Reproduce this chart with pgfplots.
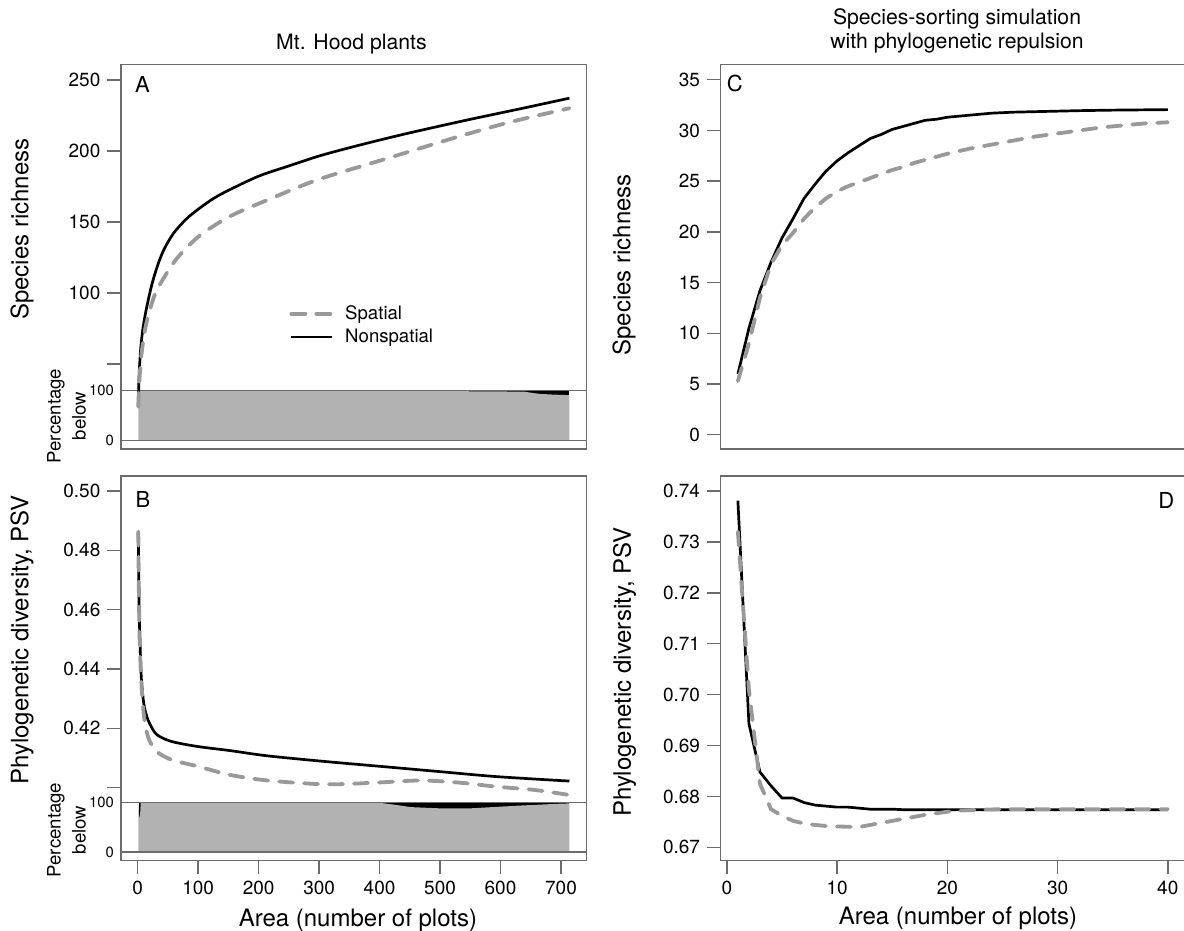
\documentclass[border=0pt]{standalone}
\usepackage{fontspec}
\setmainfont{TeX Gyre Heros}
\usepackage{pgfplots}
\usepackage{pgfplotstable}
\pgfplotsset{compat=1.18}

\definecolor{axgray}{gray}{0.42}
\definecolor{spgray}{gray}{0.6}
\definecolor{pctgray}{gray}{0.7}

% Mt. Hood plants, species richness
\pgfplotstableread{
x y
1 22
2 38
3 48
5 61
8 73
13 86
20 100
26 110
35 122
45 132
60 142.5
80 152
100 159
125 166.5
150 172.3
200 182.3
250 189.5
300 196.5
350 202.3
400 207.7
450 212.8
500 217.6
550 222.3
600 226.8
650 231.3
714 237.2
}\richNonspA
\pgfplotstableread{
x y
1 20
2 32
3 40
6 56
12 74
20 88
32 102.4
63 123.4
101 139.9
152 153.9
215 165.6
297 179.7
405 193.8
531 210.2
619 220.7
714 230.1
}\richSpA
% percentage below, closed down to 0
\pgfplotstableread{
x p
1 0
1 100
520 100
530 99
600 98.5
640 98
650 96
665 93.5
690 92
714 91
714 0
}\pctA

% Mt. Hood plants, PSV
\pgfplotstableread{
x y
1 0.4863
2 0.465
3 0.455
4 0.448
6 0.437
10 0.4284
15 0.424
20 0.4215
32 0.4178
57 0.4155
101 0.4138
152 0.4125
215 0.4107
310 0.4088
405 0.4071
499 0.4054
594 0.4037
714 0.4022
}\psvNonspB
\pgfplotstableread{
x y
1 0.4863
2 0.466
3 0.452
5 0.440
8 0.4295
12 0.4217
19 0.4161
32 0.4121
57 0.4093
101 0.4071
152 0.4043
215 0.4024
297 0.4012
341 0.4012
405 0.4018
468 0.4024
531 0.4017
594 0.4003
657 0.3992
714 0.3975
}\psvSpB
\pgfplotstableread{
x p
1 0
1 100
2 80
3 65
4 75
5 100
395 100
427 95
452 90.5
480 89
500 88
550 88
594 91
630 93.5
657 95
690 97
714 98
714 0
}\pctB

% simulation, species richness
\pgfplotstableread{
x y
1 6.0
2 10.5
3 14.2
4 17.0
5 19.4
6 21.3
7 23.3
8 24.7
9 26.0
10 27.0
11 27.8
12 28.5
13 29.2
14 29.6
15 30.1
16 30.4
17 30.7
18 31.0
19 31.1
20 31.3
21 31.4
22 31.5
23 31.6
24 31.7
26 31.8
28 31.85
30 31.9
32 31.95
35 32.0
40 32.05
}\richNonspC
\pgfplotstableread{
x y
1 5.3
2 9.0
3 13.5
4 16.8
5 18.7
6 19.9
7 21.3
8 22.4
9 23.3
10 24.0
11 24.5
12 24.9
13 25.3
14 25.7
15 26.1
16 26.4
17 26.8
18 27.1
19 27.4
20 27.7
22 28.2
24 28.6
26 29.0
28 29.4
30 29.7
32 30.0
34 30.3
36 30.5
38 30.7
40 30.8
}\richSpC

% simulation, PSV
\pgfplotstableread{
x y
1 0.7381
2 0.6943
3 0.6848
4 0.6821
5 0.6797
6 0.6797
7 0.6788
8 0.6783
9 0.6781
10 0.6779
11 0.6779
12 0.6777
13 0.6775
15 0.6775
16 0.6774
20 0.6774
30 0.6774
40 0.6774
}\psvNonspD
\pgfplotstableread{
x y
1 0.732
2 0.701
3 0.6825
4 0.6775
5 0.6762
6 0.6752
7 0.6747
8 0.6744
9 0.6742
10 0.6741
12 0.6740
13 0.6744
14 0.6748
15 0.6752
16 0.6756
17 0.6760
18 0.6764
19 0.6767
20 0.6770
21 0.6772
22 0.6773
23 0.6774
25 0.6775
30 0.6775
40 0.6775
}\psvSpD

\newcommand{\tickfont}{\fontsize{9.5}{11}\selectfont}
\newcommand{\labfont}{\fontsize{12}{14}\selectfont}
\newcommand{\titfont}{\fontsize{10.6}{12.2}\selectfont}

\pgfplotsset{
  panel/.style={
    scale only axis, anchor=south west, clip=false,
    axis line style={axgray, line width=0.7pt},
    every tick/.style={axgray, line width=0.7pt},
    tick align=outside, tick pos=left,
    major tick length=6.8pt,
    tick label style={font=\tickfont, text=black},
    /pgf/number format/assume math mode=true,
  },
  leftcol/.style={xmin=-27.6, xmax=742.2, width=232.75pt},
  rightcol/.style={xmin=-0.56, xmax=41.56, width=232.15pt},
  nonsp/.style={black, line width=1.35pt},
  sp/.style={spgray, line width=1.9pt, dash pattern=on 7pt off 5.5pt, line cap=round},
  pct/.style={panel, leftcol, height=29.15pt, ymin=-17.5, ymax=100,
    xtick=\empty, ytick={0,100}, yticklabels={0,100}, major tick length=0pt,
    tick label style={font=\fontsize{7.4}{9}\selectfont},
    ymajorgrids, grid style={axgray, line width=0.7pt}, axis on top},
}

\begin{document}
\begin{tikzpicture}

% ---------- A: percentage strip ----------
\begin{axis}[pct, at={(60.5pt,241pt)}]
  \addplot[fill=black, draw=none] coordinates {(520,0) (520,100) (714,100) (714,0)};
  \addplot[fill=pctgray, draw=none] table[y=p] {\pctA};
  \node[rotate=90, align=center, font=\fontsize{9.3}{12.5}\selectfont]
    at (axis description cs:-0.117,0.566) {Percentage\\below};
\end{axis}

% ---------- A: species richness ----------
\begin{axis}[panel, leftcol, at={(60.5pt,241pt)}, height=192.25pt,
  ymin=-9.7, ymax=260.9, xtick=\empty,
  ytick={50,100,150,200,250}, yticklabels={,100,150,200,250},
  legend style={at={(axis description cs:0.361,0.3217)}, anchor=west,
    draw=none, fill=none, inner sep=0pt, font=\fontsize{9.3}{11}\selectfont,
    row sep=3.3pt, column sep=5.75pt, nodes={inner sep=0pt}},
  legend cell align=left,
  legend image code/.code={\draw[#1] (0pt,0pt) -- (20.25pt,0pt);},
]
  \addlegendimage{sp}
  \addlegendentry{Spatial}
  \addlegendimage{nonsp}
  \addlegendentry{Nonspatial}
  \addplot[nonsp, smooth, forget plot] table {\richNonspA};
  \addplot[sp, smooth, forget plot] table {\richSpA};
  \node[font=\fontsize{11}{13}\selectfont] at (axis description cs:0.0462,0.949) {A};
  \node[anchor=base, font=\titfont] at (axis description cs:0.495,1.0395) {Mt. Hood plants};
  \node[rotate=90, font=\labfont] at (axis description cs:-0.2127,0.572) {Species richness};
\end{axis}

% ---------- B: percentage strip ----------
\begin{axis}[pct, at={(60.5pt,35.15pt)}]
  \addplot[fill=black, draw=none] coordinates {(1.5,0) (1.5,100) (5,100) (5,0)};
  \addplot[fill=black, draw=none] coordinates {(395,0) (395,100) (714,100) (714,0)};
  \addplot[fill=pctgray, draw=none] table[y=p] {\pctB};
  \node[rotate=90, align=center, font=\fontsize{9.3}{12.5}\selectfont]
    at (axis description cs:-0.117,0.526) {Percentage\\below};
\end{axis}

% ---------- B: PSV ----------
\begin{axis}[panel, leftcol, at={(60.5pt,35.15pt)}, height=192.35pt,
  ymin=0.37536, ymax=0.50506,
  ytick={0.40,0.42,0.44,0.46,0.48,0.50}, yticklabels={,0.42,0.44,0.46,0.48,0.50},
  xtick={0,100,200,300,400,500,600,700}, xticklabels={0,100,200,300,400,500,600,700},
]
  \addplot[nonsp, smooth] table {\psvNonspB};
  \addplot[sp, smooth] table {\psvSpB};
  \node[font=\fontsize{11}{13}\selectfont] at (axis description cs:0.047,0.940) {B};
  \node[rotate=90, font=\labfont] at (axis description cs:-0.2127,0.574) {Phylogenetic diversity, PSV};
  \node[anchor=base, font=\labfont] at (axis description cs:0.509,-0.1716) {Area (number of plots)};
\end{axis}

% ---------- C: simulation richness ----------
\begin{axis}[panel, rightcol, at={(360.35pt,241pt)}, height=192.25pt,
  ymin=-1.4, ymax=36.5, xtick=\empty,
  ytick={0,5,10,15,20,25,30,35}, yticklabels={0,5,10,15,20,25,30,35},
]
  \addplot[nonsp] table {\richNonspC};
  \addplot[sp] table {\richSpC};
  \node[font=\fontsize{11}{13}\selectfont] at (axis description cs:0.0302,0.951) {C};
  \node[anchor=base, align=center, font=\titfont]
    at (axis description cs:0.509,1.041) {Species-sorting simulation\\with phylogenetic repulsion};
  \node[rotate=90, font=\labfont] at (axis description cs:-0.2083,0.479) {Species richness};
\end{axis}

% ---------- D: simulation PSV ----------
\begin{axis}[panel, rightcol, at={(360.35pt,35.15pt)}, height=192.35pt,
  ymin=0.66738, ymax=0.74295,
  ytick={0.67,0.68,0.69,0.70,0.71,0.72,0.73,0.74},
  yticklabels={0.67,0.68,0.69,0.70,0.71,0.72,0.73,0.74},
  xtick={0,10,20,30,40}, xticklabels={0,10,20,30,40},
]
  \addplot[nonsp] table {\psvNonspD};
  \addplot[sp] table {\psvSpD};
  \node[font=\fontsize{11}{13}\selectfont] at (axis description cs:0.960,0.936) {D};
  \node[rotate=90, font=\labfont] at (axis description cs:-0.2072,0.4905) {Phylogenetic diversity, PSV};
  \node[anchor=base, font=\labfont] at (axis description cs:0.511,-0.167) {Area (number of plots)};
\end{axis}

\pgfresetboundingbox
\path (0pt,0pt) rectangle (592pt,465.5pt);
\end{tikzpicture}
\end{document}
